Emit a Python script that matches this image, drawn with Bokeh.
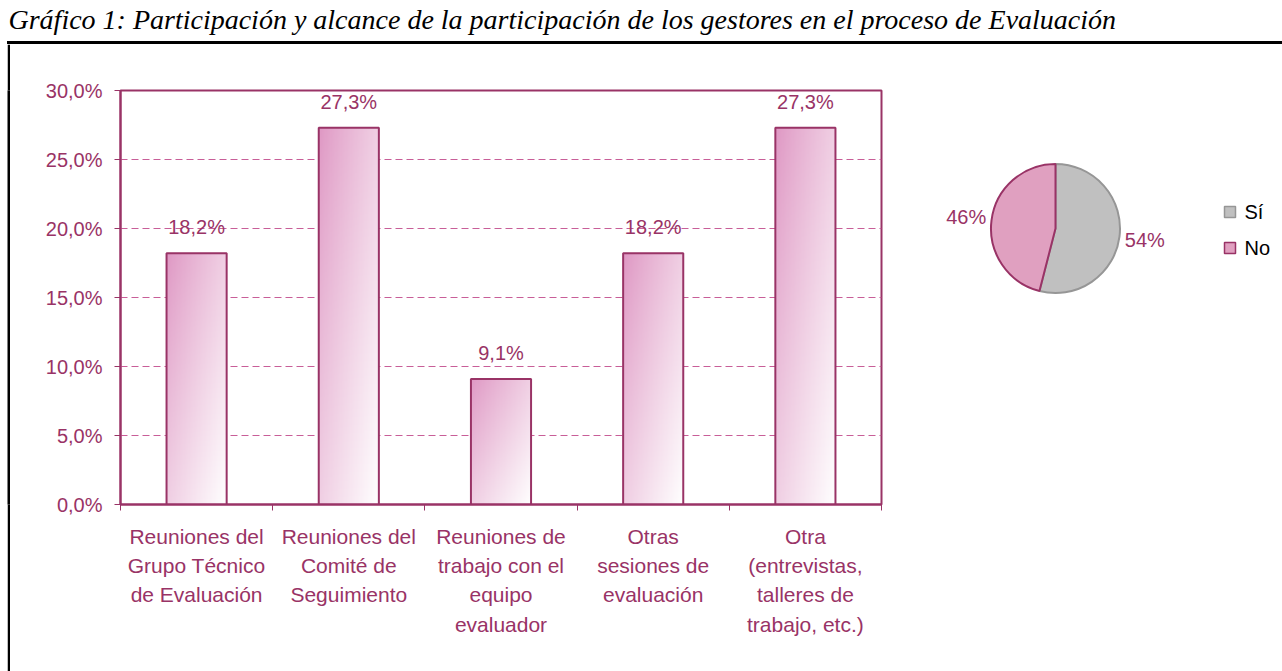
import numpy as np
from bokeh.plotting import figure
from bokeh.layouts import row, column
from bokeh.models import Range1d, FixedTicker, ColumnDataSource, Spacer
from bokeh.core.properties import value
from bokeh.core.validation import silence
from bokeh.core.validation.warnings import MISSING_RENDERERS
from bokeh.embed import file_html
from bokeh.resources import INLINE

silence(MISSING_RENDERERS, True)

# ---------------- data ----------------
TITLE = "Gráfico 1: Participación y alcance de la participación de los gestores en el proceso de Evaluación"
CATEGORIES = [
    "Reuniones del\nGrupo Técnico\nde Evaluación",
    "Reuniones del\nComité de\nSeguimiento",
    "Reuniones de\ntrabajo con el\nequipo\nevaluador",
    "Otras\nsesiones de\nevaluación",
    "Otra\n(entrevistas,\ntalleres de\ntrabajo, etc.)",
]
VALUES = [18.2, 27.3, 9.1, 18.2, 27.3]
Y_TICKS = [0, 5, 10, 15, 20, 25, 30]
Y_TICK_LABELS = ["0,0%", "5,0%", "10,0%", "15,0%", "20,0%", "25,0%", "30,0%"]
PIE_LABELS = ["Sí", "No"]
PIE_VALUES = [54, 46]

# ---------------- styles / layout ----------------
FONT = "Liberation Sans"
DARK = "#993366"
GRID = "#C85E98"
PINK = (0xDF, 0x98, 0xC4)
BAR_W = 0.395
W_TOTAL = 1282
TITLE_H = 41
LINE_H = 3
ROW_H = 671 - TITLE_H - LINE_H
B_TOP, FRAME_H = 46, 414
B_BOTTOM = ROW_H - B_TOP - FRAME_H
BAR_FIG_W = 925


def blank(width, height, color=None, **kw):
    f = figure(width=width, height=height, min_border=0, toolbar_location=None,
               output_backend="svg", x_axis_location=None, y_axis_location=None,
               outline_line_color=None, **kw)
    f.grid.visible = False
    if color:
        f.background_fill_color = color
        f.border_fill_color = color
    return f


# ---------------- title band ----------------
pt = blank(W_TOTAL, TITLE_H, title=TITLE)
pt.title.text_font = "Liberation Serif"
pt.title.text_font_style = "italic"
pt.title.text_font_size = "28px"
pt.title.text_color = "black"
pt.title.align = "left"
pt.title.offset = 8
pt.title.standoff = 2

# ---------------- box border (top and left) ----------------
top_line = row(Spacer(width=7, height=LINE_H),
               Spacer(width=W_TOTAL - 7, height=LINE_H, styles={"background-color": "black"}))
gap = Spacer(width=7, height=ROW_H)
strip = blank(3, ROW_H, "black")

# ---------------- bar chart ----------------
n = len(VALUES)
centers = [i + 0.5 for i in range(n)]
p = figure(width=BAR_FIG_W, height=ROW_H, x_range=Range1d(0, n), y_range=Range1d(0, 30),
           min_border_left=110, min_border_right=BAR_FIG_W - 110 - 761,
           min_border_top=B_TOP, min_border_bottom=B_BOTTOM,
           toolbar_location=None, output_backend="svg",
           outline_line_color=DARK, outline_line_width=2)

# diagonal pink-to-white gradient fill of each bar
ny, nx = 240, 48
imgs = []
for v in VALUES:
    img = np.empty((ny, nx), dtype=np.uint32)
    view = img.view(dtype=np.uint8).reshape((ny, nx, 4))
    u = np.linspace(0, 1, nx)[None, :]
    vt = 1 - np.linspace(0, 1, ny)[:, None]
    t = np.clip((u + vt) / 2.0, 0, 1) ** 0.9
    for k in range(3):
        view[:, :, k] = (PINK[k] + (255 - PINK[k]) * t).astype(np.uint8)
    view[:, :, 3] = 255
    imgs.append(img)
p.image_rgba(image=imgs, x=[c - BAR_W / 2 for c in centers], y=[0] * n,
             dw=[BAR_W] * n, dh=VALUES)
p.vbar(x=centers, top=VALUES, width=BAR_W, fill_alpha=0, line_color=DARK, line_width=2)

bar_labels = [f"{v:.1f}".replace(".", ",") + "%" for v in VALUES]
p.text(x=centers, y=VALUES, text=bar_labels, text_font=value(FONT), text_font_size="20px",
       text_color=DARK, text_align="center", text_baseline="middle", y_offset=-26)

p.xgrid.visible = False
p.ygrid.ticker = FixedTicker(ticks=Y_TICKS[1:-1])
p.ygrid.grid_line_color = GRID
p.ygrid.grid_line_dash = "7 4"
p.ygrid.grid_line_width = 1

p.yaxis.ticker = FixedTicker(ticks=Y_TICKS)
p.yaxis.major_label_overrides = {t: l for t, l in zip(Y_TICKS, Y_TICK_LABELS)}
p.yaxis.axis_line_color = DARK
p.yaxis.axis_line_width = 2
p.yaxis.major_tick_line_color = DARK
p.yaxis.major_tick_out = 6
p.yaxis.major_tick_in = 0
p.yaxis.minor_tick_line_color = None
p.yaxis.major_label_standoff = 12
p.yaxis.major_label_text_font = FONT
p.yaxis.major_label_text_font_size = "20px"
p.yaxis.major_label_text_color = DARK

p.xaxis.ticker = FixedTicker(ticks=centers, minor_ticks=list(range(n + 1)))
p.xaxis.major_label_overrides = {c: cat for c, cat in zip(centers, CATEGORIES)}
p.xaxis.axis_line_color = DARK
p.xaxis.axis_line_width = 2
p.xaxis.major_tick_out = 0
p.xaxis.major_tick_in = 0
p.xaxis.minor_tick_out = 6
p.xaxis.minor_tick_in = 0
p.xaxis.minor_tick_line_color = DARK
p.xaxis.major_label_standoff = 14
p.xaxis.major_label_text_font = FONT
p.xaxis.major_label_text_font_size = "21px"
p.xaxis.major_label_text_color = DARK
p.xaxis.major_label_text_line_height = 1.28

# ---------------- pie chart ----------------
R_PX = 64.5
CX = 120                                        # px from the left of the pie panel
CY = 228 - (TITLE_H + LINE_H + B_TOP)           # px from the top of the pie frame
PW = W_TOTAL - 10 - BAR_FIG_W
pp = figure(width=PW, height=ROW_H,
            x_range=Range1d(-CX / R_PX, (PW - CX) / R_PX),
            y_range=Range1d(-(FRAME_H - CY) / R_PX, CY / R_PX),
            min_border_left=0, min_border_right=0,
            min_border_top=B_TOP, min_border_bottom=B_BOTTOM,
            toolbar_location=None, output_backend="svg",
            x_axis_location=None, y_axis_location=None, outline_line_color=None)
pp.grid.visible = False

total = float(sum(PIE_VALUES))
fracs = [v / total for v in PIE_VALUES]
cum = np.concatenate([[0], np.cumsum(fracs)])
starts = [np.pi / 2 - 2 * np.pi * cum[i] for i in range(len(fracs))]
ends = [np.pi / 2 - 2 * np.pi * cum[i + 1] for i in range(len(fracs))]
mids = [(s + e) / 2 for s, e in zip(starts, ends)]
FILLS = ["#C0C0C0", "#E0A0C0"]
LINES = ["#969696", DARK]
src = ColumnDataSource(dict(start=starts, end=ends, fill=FILLS, line=LINES))
pp.wedge(x=0, y=0, radius=1, start_angle="start", end_angle="end", direction="clock",
         fill_color="fill", line_color="line", line_width=2, source=src)
LR = 90 / R_PX
pp.text(x=[LR * np.cos(m) for m in mids], y=[LR * np.sin(m) for m in mids],
        text=[f"{v}%" for v in PIE_VALUES], text_font=value(FONT), text_font_size="20px",
        text_color=DARK, text_align="center", text_baseline="middle")

# legend (square swatch + label per slice)
k = np.arange(len(PIE_LABELS))
leg_x = (1229.5 - 1055) / R_PX
leg_y = [(228 - 211.5 - 36 * i) / R_PX for i in k]
pp.scatter(x=[leg_x] * len(k), y=leg_y, marker="square", size=11,
           fill_color=FILLS, line_color=LINES, line_width=1.5)
pp.text(x=[(1244 - 1055) / R_PX] * len(k), y=leg_y, text=PIE_LABELS, text_font=value(FONT),
        text_font_size="20px", text_color="black", text_align="left", text_baseline="middle")

layout = column(pt, top_line, row(gap, strip, p, pp))
open("out.html", "w").write(file_html(layout, INLINE))
